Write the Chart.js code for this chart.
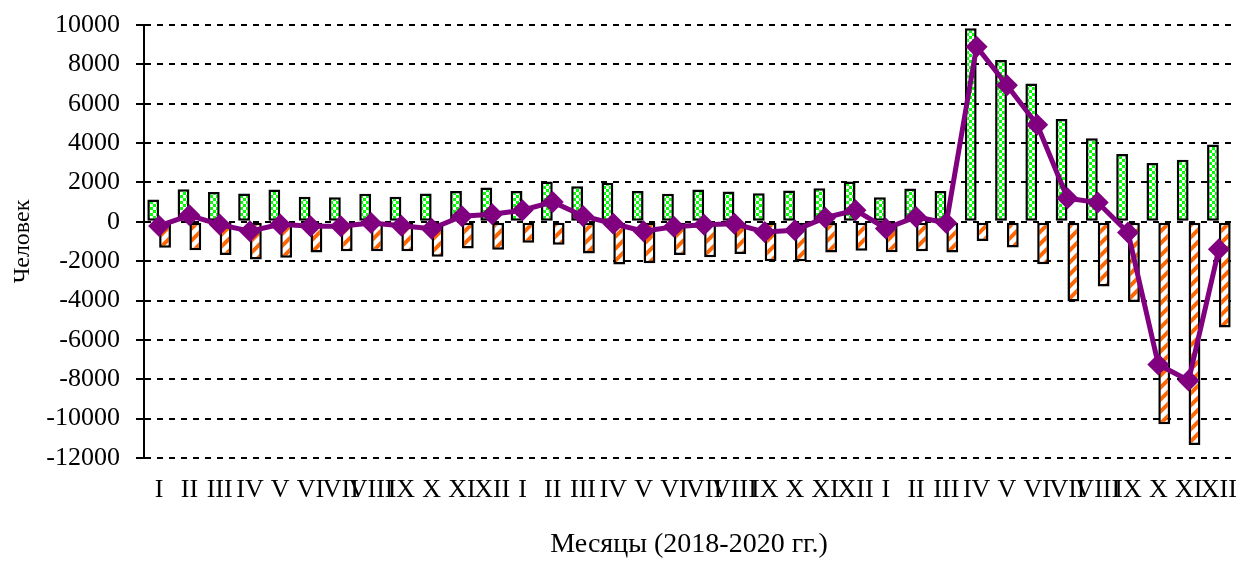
<!DOCTYPE html>
<html>
<head>
<meta charset="utf-8">
<script src="https://cdn.jsdelivr.net/npm/chart.js@4.4.1/dist/chart.umd.min.js"></script>
<style>
  html, body { margin: 0; padding: 0; background: #fff; }
  #wrap { width: 1245px; height: 561px; }
</style>
</head>
<body>
<div id="wrap"><canvas id="migrationChart" width="1245" height="561"></canvas></div>
<script>
// Months 2018-2020 (roman numerals, repeated each year)
const MONTHS = ['I', 'II', 'III', 'IV', 'V', 'VI', 'VII', 'VIII', 'IX', 'X', 'XI', 'XII'];
const labels = [...MONTHS, ...MONTHS, ...MONTHS];

// Arrivals (green checkered bars)
const arrivals = [
  1130, 1660, 1520, 1440, 1640, 1270, 1250, 1420, 1270, 1440, 1570, 1750,
  1560, 2050, 1810, 1980, 1570, 1420, 1640, 1540, 1450, 1590, 1710, 2050,
  1250, 1690, 1570, 9830, 8220, 7030, 5220, 4240, 3440, 2990, 3150, 3930
];

// Departures (orange hatched bars)
const departures = [
  -1320, -1450, -1690, -1910, -1830, -1560, -1490, -1490, -1500, -1780, -1350, -1420,
  -1060, -1160, -1610, -2170, -2100, -1680, -1800, -1640, -2000, -2000, -1560, -1470,
  -1540, -1500, -1560, -970, -1310, -2150, -4050, -3290, -4070, -10290, -11340, -5370
];

// Net migration (purple line)
const netGrowth = [
  -210, 330, -140, -480, -130, -230, -230, -60, -200, -350, 280, 380,
  590, 1010, 300, -100, -480, -250, -150, -100, -520, -430, 210, 590,
  -340, 250, -60, 8900, 6940, 4930, 1200, 980, -540, -7250, -8060, -1400
];

const FONT = "'Liberation Serif', 'Times New Roman', serif";

function checkerPattern() {
  const c = document.createElement('canvas');
  c.width = 6; c.height = 6;
  const g = c.getContext('2d');
  g.fillStyle = '#00ff00';
  g.fillRect(0, 0, 6, 6);
  g.fillStyle = '#ffffff';
  g.fillRect(0, 0, 3, 3);
  g.fillRect(3, 3, 3, 3);
  return g.createPattern(c, 'repeat');
}

function stripePattern() {
  const n = 12;
  const c = document.createElement('canvas');
  c.width = n; c.height = n;
  const g = c.getContext('2d');
  g.fillStyle = '#ffffff';
  g.fillRect(0, 0, n, n);
  g.strokeStyle = '#ff6600';
  g.lineWidth = 4;
  g.beginPath();
  g.moveTo(-2, n + 2); g.lineTo(n + 2, -2);
  g.moveTo(-2, 2); g.lineTo(2, -2);
  g.moveTo(n - 2, n + 2); g.lineTo(n + 2, n - 2);
  g.stroke();
  return g.createPattern(c, 'repeat');
}

const ctx = document.getElementById('migrationChart');

new Chart(ctx, {
  type: 'bar',
  data: {
    labels: labels,
    datasets: [
      {
        type: 'line',
        label: 'Net',
        data: netGrowth,
        borderColor: '#800080',
        backgroundColor: '#800080',
        borderWidth: 5,
        pointStyle: 'rectRot',
        pointRadius: 11,
        pointBorderWidth: 0,
        pointBackgroundColor: '#800080',
        tension: 0,
        order: 0
      },
      {
        label: 'Arrivals',
        data: arrivals,
        backgroundColor: checkerPattern(),
        borderColor: '#000000',
        borderWidth: 2.5,
        borderSkipped: false,
        categoryPercentage: 0.78,
        barPercentage: 1.0,
        order: 1
      },
      {
        label: 'Departures',
        data: departures,
        backgroundColor: stripePattern(),
        borderColor: '#000000',
        borderWidth: 2.5,
        borderSkipped: false,
        categoryPercentage: 0.78,
        barPercentage: 1.0,
        order: 1
      }
    ]
  },
  options: {
    responsive: false,
    animation: false,
    layout: { padding: { top: 25, right: 2, bottom: 0, left: 8 } },
    plugins: {
      legend: { display: false },
      tooltip: { enabled: false }
    },
    scales: {
      x: {
        afterFit: (scale) => {
          scale.height = 103;
          scale.paddingLeft = 0;
          scale.paddingRight = 0;
        },
        grid: { display: false, drawTicks: false },
        border: { display: false },
        ticks: {
          autoSkip: false,
          maxRotation: 0,
          minRotation: 0,
          padding: 17,
          color: '#000',
          font: { family: FONT, size: 26 }
        },
        title: {
          display: true,
          text: 'Месяцы (2018-2020 гг.)',
          color: '#000',
          font: { family: FONT, size: 28 },
          padding: { top: 0, bottom: 0 }
        }
      },
      y: {
        min: -12000,
        max: 10000,
        afterFit: (scale) => {
          scale.width = 136;
          scale.paddingTop = 0;
          scale.paddingBottom = 0;
        },
        ticks: {
          stepSize: 2000,
          padding: 16,
          color: '#000',
          font: { family: FONT, size: 26 },
          callback: (val) => String(val)
        },
        grid: {
          color: '#000',
          lineWidth: 2,
          tickLength: 8,
          tickBorderDash: [],
          tickColor: '#000',
          tickWidth: 2
        },
        border: { display: true, color: '#000', width: 2, dash: [6, 6] },
        title: {
          display: true,
          text: 'Человек',
          color: '#000',
          font: { family: FONT, size: 24 },
          padding: { top: 0, bottom: 0 }
        }
      }
    }
  }
});
</script>
</body>
</html>
